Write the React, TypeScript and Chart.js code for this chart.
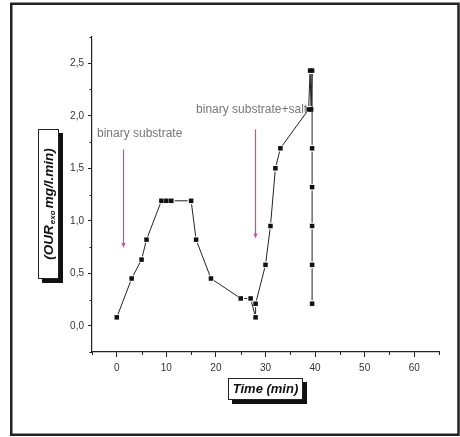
import React, { useEffect, useRef } from "react";
import { Chart, registerables } from "chart.js";

Chart.register(...registerables);

// ---- data ----
const timeMin = [0, 3, 5, 6, 9, 10, 11, 15, 16, 19, 25, 27, 28, 28, 30, 31, 32, 33, 38.7, 39.0, 39.2, 39.4, 39.4, 39.4, 39.4, 39.4, 39.4];
const ourExo = [0.08, 0.45, 0.63, 0.82, 1.19, 1.19, 1.19, 1.19, 0.82, 0.45, 0.26, 0.26, 0.08, 0.21, 0.58, 0.95, 1.5, 1.69, 2.06, 2.43, 2.06, 2.43, 1.69, 1.32, 0.95, 0.58, 0.21];

const xMajorTicks = [0, 10, 20, 30, 40, 50, 60];
const xMinorTicks = [-5, 5, 15, 25, 35, 45, 55, 65];
const yMajorTicks = [0, 0.5, 1.0, 1.5, 2.0, 2.5];
const yMinorTicks = [-0.25, 0.25, 0.75, 1.25, 1.75, 2.25, 2.75];

const annotationTexts = ["binary substrate", "binary substrate+salt"];
const annotationTextX = [-4.0, 16.0];
const annotationTextY = [1.83, 2.06];
const arrowX = [1.3, 27.8];
const arrowTop = [1.68, 1.87];
const arrowBottom = [0.74, 0.83];

const xTitle = "Time (min)";
const yTitleMain = "(OUR";
const yTitleSub = "exo";
const yTitleRest = "mg/l.min)";

const FONT = "'Liberation Sans', Arial, Helvetica, sans-serif";

const gapLinePlugin = {
  id: "gapLine",
  beforeDatasetsDraw(chart: any) {
    const meta = chart.getDatasetMeta(0);
    const pts = meta.data;
    const ctx = chart.ctx;
    const gap = 3.4;
    ctx.save();
    ctx.strokeStyle = "#222";
    ctx.lineWidth = 1;
    for (let i = 0; i < pts.length - 1; i++) {
      const a = pts[i];
      const b = pts[i + 1];
      const dx = b.x - a.x;
      const dy = b.y - a.y;
      const d = Math.hypot(dx, dy);
      if (d <= gap * 2) continue;
      const ux = dx / d;
      const uy = dy / d;
      ctx.beginPath();
      ctx.moveTo(a.x + ux * gap, a.y + uy * gap);
      ctx.lineTo(b.x - ux * gap, b.y - uy * gap);
      ctx.stroke();
    }
    ctx.restore();
  },
};

const annotationPlugin = {
  id: "annotations",
  beforeDatasetsDraw(chart: any) {
    const ctx = chart.ctx;
    const xs = chart.scales.x;
    const ys = chart.scales.y;
    ctx.save();
    ctx.font = `12px ${FONT}`;
    ctx.fillStyle = "#777";
    ctx.textBaseline = "middle";
    ctx.textAlign = "left";
    annotationTexts.forEach((t, i) => {
      ctx.fillText(t, xs.getPixelForValue(annotationTextX[i]), ys.getPixelForValue(annotationTextY[i]));
    });
    const col = "#c24db5";
    ctx.strokeStyle = col;
    ctx.fillStyle = col;
    ctx.lineWidth = 1.2;
    arrowX.forEach((xv, i) => {
      const x = Math.round(xs.getPixelForValue(xv)) + 0.5;
      const y1 = ys.getPixelForValue(arrowTop[i]);
      const y2 = ys.getPixelForValue(arrowBottom[i]);
      ctx.beginPath();
      ctx.moveTo(x, y1);
      ctx.lineTo(x, y2 - 3);
      ctx.stroke();
      ctx.beginPath();
      ctx.moveTo(x - 2, y2 - 5);
      ctx.lineTo(x + 2, y2 - 5);
      ctx.lineTo(x, y2);
      ctx.closePath();
      ctx.fill();
    });
    ctx.restore();
  },
};

const decorPlugin = {
  id: "decor",
  afterDraw(chart: any) {
    const ctx = chart.ctx;
    const xs = chart.scales.x;
    const ys = chart.scales.y;
    const area = chart.chartArea;
    ctx.save();
    // minor ticks
    ctx.strokeStyle = "#222";
    ctx.lineWidth = 1;
    xMinorTicks.forEach((v) => {
      const x = Math.round(xs.getPixelForValue(v)) + 0.5;
      ctx.beginPath();
      ctx.moveTo(x, area.bottom);
      ctx.lineTo(x, area.bottom + 3);
      ctx.stroke();
    });
    yMinorTicks.forEach((v) => {
      const y = Math.round(ys.getPixelForValue(v)) + 0.5;
      ctx.beginPath();
      ctx.moveTo(area.left, y);
      ctx.lineTo(area.left - 2.5, y);
      ctx.stroke();
    });

    // x title box
    const bx = area.left + 136;
    const by = area.bottom + 26;
    const bw = 75;
    const bh = 22;
    ctx.fillStyle = "#111";
    ctx.fillRect(bx + 4, by + 4, bw, bh);
    ctx.fillStyle = "#fff";
    ctx.fillRect(bx, by, bw, bh);
    ctx.strokeStyle = "#222";
    ctx.lineWidth = 1;
    ctx.strokeRect(bx + 0.5, by + 0.5, bw - 1, bh - 1);
    ctx.fillStyle = "#111";
    ctx.font = `bold italic 13px ${FONT}`;
    ctx.textAlign = "center";
    ctx.textBaseline = "middle";
    ctx.fillText(xTitle, bx + bw / 2, by + bh / 2 + 0.5);

    // y title box
    const yx = area.left - 54;
    const yy = 129;
    const yw = 21;
    const yh = 150;
    ctx.fillStyle = "#111";
    ctx.fillRect(yx + 4, yy + 4, yw, yh);
    ctx.fillStyle = "#fff";
    ctx.fillRect(yx, yy, yw, yh);
    ctx.strokeStyle = "#222";
    ctx.strokeRect(yx + 0.5, yy + 0.5, yw - 1, yh - 1);

    ctx.translate(yx + yw / 2 + 0.5, yy + yh / 2);
    ctx.rotate(-Math.PI / 2);
    ctx.fillStyle = "#111";
    ctx.textBaseline = "middle";
    ctx.textAlign = "left";
    const mainFont = `bold italic 13.5px ${FONT}`;
    const subFont = `bold italic 8px ${FONT}`;
    ctx.font = mainFont;
    const w1 = ctx.measureText(yTitleMain).width;
    const w3 = ctx.measureText(yTitleRest).width;
    ctx.font = subFont;
    const w2 = ctx.measureText(yTitleSub).width;
    const total = w1 + 1 + w2 + 2 + w3;
    let cx = -total / 2;
    ctx.font = mainFont;
    ctx.fillText(yTitleMain, cx, 0);
    cx += w1 + 1;
    ctx.font = subFont;
    ctx.fillText(yTitleSub, cx, 4);
    cx += w2 + 2;
    ctx.font = mainFont;
    ctx.fillText(yTitleRest, cx, 0);
    ctx.restore();

    // outer frame
    ctx.save();
    ctx.strokeStyle = "#222";
    ctx.lineWidth = 2.5;
    ctx.strokeRect(11.25, 3.75, 447.25, 431);
    ctx.restore();
  },
};

export default function App() {
  const ref = useRef<HTMLCanvasElement | null>(null);

  useEffect(() => {
    if (!ref.current) return;
    const chart = new Chart(ref.current, {
      type: "scatter",
      data: {
        datasets: [
          {
            data: timeMin.map((t, i) => ({ x: t, y: ourExo[i] })),
            showLine: false,
            pointStyle: "rect",
            pointRadius: 3.2,
            pointBorderWidth: 0,
            pointBackgroundColor: "#111",
            pointBorderColor: "#111",
          },
        ],
      },
      options: {
        responsive: false,
        animation: false,
        layout: { padding: { top: 37, right: 21, left: 0, bottom: 0 } },
        plugins: { legend: { display: false }, tooltip: { enabled: false } },
        scales: {
          x: {
            type: "linear",
            min: -5,
            max: 65,
            afterBuildTicks: (s: any) => {
              s.ticks = xMajorTicks.map((v) => ({ value: v }));
            },
            afterFit: (s: any) => {
              s.height = 85;
            },
            grid: { display: true, drawOnChartArea: false, drawTicks: true, tickLength: 5, color: "#222", lineWidth: 1 },
            border: { display: true, color: "#222", width: 1.2 },
            ticks: {
              font: { size: 10, family: FONT },
              color: "#333",
              padding: 5,
              maxRotation: 0,
              autoSkip: false,
              callback: (v: any) => String(v),
            },
          },
          y: {
            type: "linear",
            min: -0.25,
            max: 2.75,
            afterBuildTicks: (s: any) => {
              s.ticks = yMajorTicks.map((v) => ({ value: v }));
            },
            afterFit: (s: any) => {
              s.width = 92;
            },
            grid: { display: true, drawOnChartArea: false, drawTicks: true, tickLength: 4, color: "#222", lineWidth: 1 },
            border: { display: true, color: "#222", width: 1.2 },
            ticks: {
              font: { size: 10, family: FONT },
              color: "#333",
              padding: 4,
              autoSkip: false,
              callback: (v: any) => Number(v).toFixed(1).replace(".", ","),
            },
          },
        },
      },
      plugins: [gapLinePlugin, annotationPlugin, decorPlugin],
    });
    return () => chart.destroy();
  }, []);

  return (
    <div style={{ position: "absolute", left: 0, top: 0, width: 460, height: 437, background: "#fff" }}>
      <canvas ref={ref} width={460} height={437} />
    </div>
  );
}
